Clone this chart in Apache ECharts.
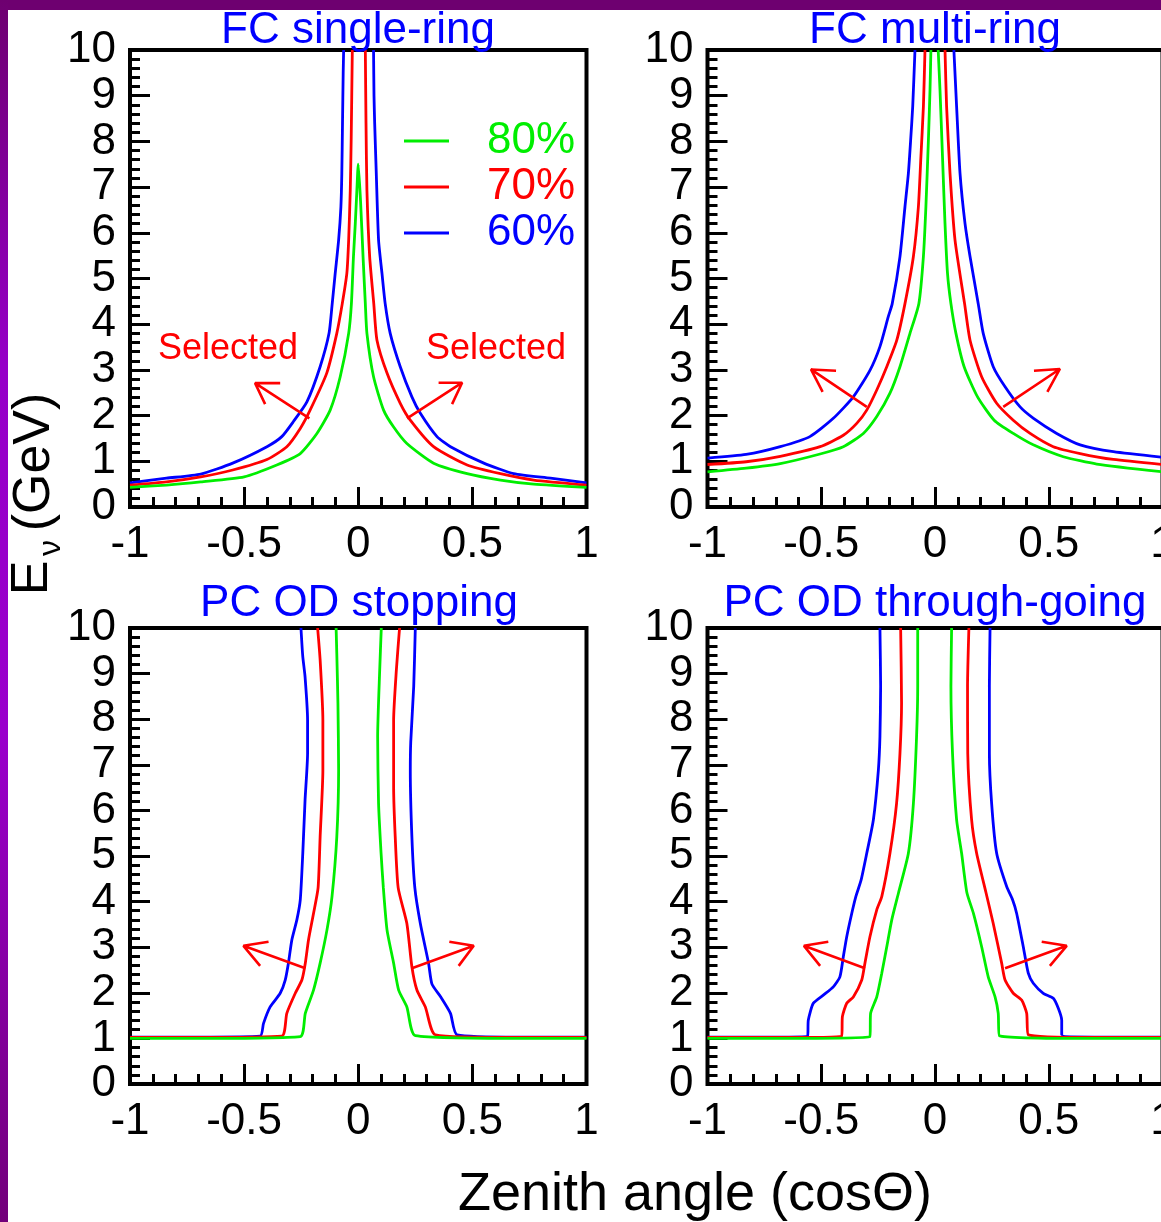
<!DOCTYPE html>
<html><head><meta charset="utf-8">
<script src="https://cdn.jsdelivr.net/npm/echarts@6/dist/echarts.min.js"></script>
<style>html,body{margin:0;padding:0;background:#fff;overflow:hidden}#chart{width:1161px;height:1222px}</style>
</head><body><div id="chart"></div>
<script>
// ---------- data: [cosTheta, E_nu (GeV)], null separates left / right branch ----------
const xTicks = [-1, -0.5, 0, 0.5, 1];
const yTicks = [0,1,2,3,4,5,6,7,8,9,10];
const panelTitles = ['FC single-ring', 'FC multi-ring', 'PC OD stopping', 'PC OD through-going'];
const levels = ['80%', '70%', '60%'];

const fcSingle60 = [[-1,0.53],[-0.84,0.63],[-0.69,0.72],[-0.55,0.96],[-0.40,1.32],[-0.335,1.54],[-0.284,1.87],[-0.225,2.30],[-0.167,3.07],[-0.128,3.8],[-0.115,4.4],[-0.101,5.11],[-0.086,5.84],[-0.076,6.57],[-0.072,7.30],[-0.069,8.39],[-0.066,9.49],[-0.064,10],
  null,[0.067,10],[0.069,9.0],[0.072,8.39],[0.079,7.30],[0.089,5.84],[0.104,5.11],[0.118,4.45],[0.140,3.80],[0.184,3.07],[0.235,2.41],[0.272,2.05],[0.345,1.54],[0.404,1.32],[0.55,0.96],[0.681,0.73],[0.842,0.63],[1,0.53]];
const fcSingle70 = [[-1,0.48],[-0.84,0.55],[-0.69,0.66],[-0.55,0.81],[-0.40,1.04],[-0.313,1.32],[-0.254,1.72],[-0.211,2.12],[-0.138,2.93],[-0.094,3.80],[-0.07,4.45],[-0.05,5.11],[-0.042,5.84],[-0.035,6.93],[-0.031,8.03],[-0.026,10],
  null,[0.031,10],[0.034,8.4],[0.038,6.93],[0.050,5.48],[0.068,4.45],[0.082,3.65],[0.126,2.93],[0.184,2.27],[0.228,1.90],[0.330,1.32],[0.477,0.92],[0.623,0.73],[0.769,0.59],[1,0.48]];
const fcSingle80 = [[-1,0.43],[-0.84,0.48],[-0.69,0.55],[-0.50,0.66],[-0.357,0.92],[-0.254,1.17],[-0.181,1.61],[-0.123,2.12],[-0.079,2.85],[-0.042,3.80],[-0.03,4.45],[-0.021,5.48],[-0.013,6.2],[-0.006,6.93],[0,7.5],[0.01,6.7],[0.021,5.48],[0.031,4.45],[0.038,3.80],[0.067,2.85],[0.111,2.12],[0.155,1.75],[0.213,1.39],[0.330,0.96],[0.477,0.73],[0.623,0.59],[0.769,0.50],[1,0.43]];

const fcMulti60 = [[-1,1.07],[-0.83,1.15],[-0.68,1.32],[-0.55,1.54],[-0.447,1.94],[-0.359,2.41],[-0.286,2.99],[-0.242,3.51],[-0.205,4.17],[-0.188,4.45],[-0.154,5.48],[-0.132,6.57],[-0.117,7.30],[-0.107,8.03],[-0.098,8.76],[-0.088,10],
  null,[0.083,10],[0.095,8.76],[0.110,7.30],[0.132,6.2],[0.154,5.48],[0.19,4.45],[0.212,3.80],[0.256,3.07],[0.308,2.63],[0.374,2.19],[0.433,1.94],[0.535,1.61],[0.638,1.36],[0.784,1.21],[1,1.09]];
const fcMulti70 = [[-1,0.93],[-0.83,0.99],[-0.68,1.11],[-0.505,1.32],[-0.403,1.57],[-0.344,1.83],[-0.300,2.12],[-0.256,2.56],[-0.212,3.07],[-0.168,3.65],[-0.132,4.45],[-0.095,5.48],[-0.073,6.57],[-0.062,7.66],[-0.051,8.76],[-0.044,10],
  null,[0.044,10],[0.051,8.76],[0.066,7.30],[0.088,5.84],[0.13,4.45],[0.154,3.65],[0.205,2.85],[0.271,2.27],[0.344,1.90],[0.418,1.61],[0.520,1.32],[0.638,1.17],[0.784,1.04],[1,0.93]];
const fcMulti80 = [[-1,0.77],[-0.83,0.85],[-0.68,0.95],[-0.505,1.16],[-0.403,1.32],[-0.315,1.61],[-0.256,1.98],[-0.198,2.49],[-0.154,3.07],[-0.110,3.80],[-0.071,4.45],[-0.051,5.48],[-0.040,6.57],[-0.029,8.03],[-0.022,9.12],[-0.018,10],
  null,[0.014,10],[0.022,9.12],[0.033,7.66],[0.044,6.2],[0.055,5.11],[0.07,4.45],[0.092,3.80],[0.128,3.07],[0.187,2.41],[0.260,1.90],[0.344,1.61],[0.432,1.36],[0.564,1.10],[0.711,0.94],[1,0.77]];

const pcStop60 = [[-1,1.03],[-0.7,1.03],[-0.43,1.05],[-0.415,1.33],[-0.386,1.69],[-0.342,1.99],[-0.320,2.28],[-0.306,2.65],[-0.291,3.16],[-0.269,3.60],[-0.254,4.04],[-0.243,5.06],[-0.233,6.23],[-0.222,7.25],[-0.222,7.98],[-0.233,8.93],[-0.243,9.37],[-0.251,10],
  null,[0.25,10],[0.243,8.72],[0.230,7.5],[0.228,6.88],[0.235,5.42],[0.248,4.3],[0.272,3.52],[0.308,2.65],[0.323,2.19],[0.360,1.92],[0.404,1.55],[0.433,1.08],[0.7,1.03],[1,1.03]];
const pcStop70 = [[-1,1.02],[-0.7,1.02],[-0.335,1.05],[-0.313,1.55],[-0.276,1.99],[-0.247,2.28],[-0.232,2.65],[-0.218,3.16],[-0.196,3.74],[-0.176,4.3],[-0.167,5.42],[-0.155,6.88],[-0.155,7.98],[-0.167,9.30],[-0.178,10],
  null,[0.181,10],[0.167,9.08],[0.155,7.98],[0.155,6.52],[0.162,5.42],[0.175,4.3],[0.213,3.52],[0.235,2.57],[0.257,2.06],[0.294,1.69],[0.338,1.08],[0.7,1.02],[1,1.02]];
const pcStop80 = [[-1,1.0],[-0.7,1.0],[-0.254,1.04],[-0.232,1.55],[-0.196,2.06],[-0.167,2.65],[-0.137,3.38],[-0.115,4.11],[-0.094,5.42],[-0.086,6.88],[-0.089,8.35],[-0.094,9.44],[-0.097,10],
  null,[0.101,10],[0.094,9.08],[0.085,7.62],[0.089,6.15],[0.100,5.06],[0.110,4.3],[0.126,3.38],[0.155,2.65],[0.177,2.06],[0.213,1.69],[0.250,1.06],[0.7,1.0],[1,1.0]];

const pcThru60 = [[-1,1.03],[-0.7,1.03],[-0.56,1.05],[-0.557,1.40],[-0.535,1.77],[-0.491,1.95],[-0.447,2.13],[-0.418,2.35],[-0.403,2.79],[-0.388,3.23],[-0.366,3.74],[-0.348,4.11],[-0.325,4.47],[-0.300,5.06],[-0.271,5.79],[-0.249,6.88],[-0.242,7.62],[-0.239,8.72],[-0.242,10],
  null,[0.242,10],[0.239,8.72],[0.239,7.25],[0.249,6.15],[0.271,5.06],[0.315,4.33],[0.341,4.04],[0.359,3.74],[0.388,3.01],[0.410,2.43],[0.432,2.21],[0.476,1.99],[0.520,1.88],[0.542,1.66],[0.557,1.40],[0.557,1.08],[0.7,1.03],[1,1.03]];
const pcThru70 = [[-1,1.02],[-0.7,1.02],[-0.41,1.05],[-0.407,1.48],[-0.388,1.77],[-0.359,1.91],[-0.322,2.28],[-0.308,2.65],[-0.286,3.23],[-0.256,3.82],[-0.234,4.11],[-0.198,5.06],[-0.169,6.15],[-0.154,7.25],[-0.147,8.35],[-0.151,10],
  null,[0.149,10],[0.143,8.72],[0.144,7.25],[0.161,5.79],[0.183,5.06],[0.224,4.2],[0.256,3.52],[0.293,2.65],[0.308,2.28],[0.344,1.99],[0.381,1.84],[0.403,1.55],[0.410,1.08],[0.7,1.02],[1,1.02]];
const pcThru80 = [[-1,1.0],[-0.7,1.0],[-0.286,1.04],[-0.283,1.55],[-0.256,1.91],[-0.234,2.43],[-0.212,3.01],[-0.190,3.60],[-0.16,4.2],[-0.117,5.06],[-0.095,6.15],[-0.081,7.62],[-0.076,8.72],[-0.076,10],
  null,[0.073,10],[0.070,8.72],[0.077,7.25],[0.095,5.79],[0.117,5.06],[0.14,4.2],[0.169,3.74],[0.205,3.01],[0.234,2.35],[0.264,1.91],[0.278,1.55],[0.283,1.06],[0.7,1.0],[1,1.0]];

// "Selected" arrows: [shaft start, tip, arm 1, arm 2]
const fcSingleArrows = [[[-0.214,1.94],[-0.452,2.71],[-0.342,2.71],[-0.408,2.25]], [[0.214,1.94],[0.455,2.72],[0.352,2.72],[0.411,2.25]]];
const fcMultiArrows  = [[[-0.300,2.19],[-0.545,3.01],[-0.435,2.98],[-0.494,2.52]], [[0.300,2.19],[0.549,3.02],[0.435,2.98],[0.494,2.52]]];
const pcStopArrows   = [[[-0.232,2.54],[-0.503,3.03],[-0.393,3.12],[-0.430,2.59]], [[0.235,2.54],[0.506,3.03],[0.399,3.12],[0.440,2.59]]];
const pcThruArrows   = [[[-0.308,2.54],[-0.576,3.03],[-0.469,3.12],[-0.505,2.59]], [[0.308,2.54],[0.579,3.03],[0.469,3.12],[0.505,2.59]]];

// ---------- build ----------
const FONT = '"Liberation Sans", Arial, Helvetica, sans-serif';
const COLORS = {'80%': '#00ee00', '70%': '#ff0000', '60%': '#0000ff'};
const panels = [
  {data: {'60%': fcSingle60, '70%': fcSingle70, '80%': fcSingle80}, arrows: fcSingleArrows},
  {data: {'60%': fcMulti60, '70%': fcMulti70, '80%': fcMulti80}, arrows: fcMultiArrows},
  {data: {'60%': pcStop60, '70%': pcStop70, '80%': pcStop80}, arrows: pcStopArrows},
  {data: {'60%': pcThru60, '70%': pcThru70, '80%': pcThru80}, arrows: pcThruArrows}
];
const gridPos = [
  {left: 130, top: 50, width: 456.5, height: 457},
  {left: 707.5, top: 50, width: 455, height: 457},
  {left: 130, top: 628, width: 456.5, height: 456},
  {left: 707.5, top: 628, width: 455, height: 456}
];
const titlePos = [[358, 31], [935, 31], [359, 604], [935, 604]];

function splitBranches(arr) {
  const out = [[]];
  arr.forEach(p => { if (p === null) out.push([]); else out[out.length - 1].push(p); });
  return out;
}

const grid = gridPos.map(g => Object.assign({show: true, borderColor: '#000', borderWidth: 4, backgroundColor: 'transparent', containLabel: false, outerBoundsMode: 'none'}, g));
const tickCommon = () => ({
  axisLine: {show: false, onZero: false},
  axisTick: {show: true, inside: true, length: 20, lineStyle: {color: '#000', width: 3}},
  minorTick: {show: true, splitNumber: 5, length: 10, lineStyle: {color: '#000', width: 3}},
  splitLine: {show: false}, minorSplitLine: {show: false}
});
const xAxis = gridPos.map((g, i) => Object.assign({
  type: 'value', gridIndex: i, position: 'bottom', min: xTicks[0], max: xTicks[xTicks.length - 1], interval: xTicks[1] - xTicks[0],
  axisLabel: {color: '#000', fontSize: 44, fontFamily: FONT, margin: 16}
}, tickCommon()));
const yAxis = gridPos.map((g, i) => Object.assign({
  type: 'value', gridIndex: i, position: 'left', min: yTicks[0], max: yTicks[yTicks.length - 1], interval: yTicks[1] - yTicks[0],
  axisLabel: {color: '#000', fontSize: 44, fontFamily: FONT, margin: 14}
}, tickCommon()));

const series = [];
panels.forEach((p, i) => {
  ['60%', '70%', '80%'].forEach(lv => {
    splitBranches(p.data[lv]).forEach(br => {
      series.push({
        type: 'line', name: lv, xAxisIndex: i, yAxisIndex: i, data: br,
        color: COLORS[lv], showSymbol: false, symbol: 'none', smooth: 0.2,
        lineStyle: {color: COLORS[lv], width: 2.8}, z: 3, silent: true
      });
    });
  });
  p.arrows.forEach(a => {
    series.push({
      type: 'line', xAxisIndex: i, yAxisIndex: i, data: [a[0], a[1], a[2], a[1], a[3]],
      showSymbol: false, symbol: 'none', lineStyle: {color: '#ff0000', width: 2.6}, z: 4, silent: true
    });
  });
});

const graphic = [];
panelTitles.forEach((t, i) => graphic.push({
  type: 'text', x: titlePos[i][0], y: titlePos[i][1], z: 10,
  style: {text: t, fill: '#0000ff', font: '44px ' + FONT, align: 'center', verticalAlign: 'middle'}
}));
[['Selected', 228, 349], ['Selected', 496, 349]].forEach(s => graphic.push({
  type: 'text', x: s[1], y: s[2], z: 10,
  style: {text: s[0], fill: '#ff0000', font: '36px ' + FONT, align: 'center', verticalAlign: 'middle'}
}));
graphic.push({type: 'text', x: 695, y: 1195, z: 10,
  style: {text: 'Zenith angle (cosΘ)', fill: '#000', font: '54px ' + FONT, align: 'center', verticalAlign: 'middle'}});
graphic.push({type: 'text', x: 33, y: 578, rotation: Math.PI / 2, z: 10,
  style: {text: 'E', fill: '#000', font: '52px ' + FONT, align: 'center', verticalAlign: 'middle'}});
graphic.push({type: 'text', x: 51, y: 548, rotation: Math.PI / 2, z: 10,
  style: {text: 'ν', fill: '#000', font: '32px ' + FONT, align: 'center', verticalAlign: 'middle'}});
graphic.push({type: 'text', x: 35, y: 462, rotation: Math.PI / 2, z: 10,
  style: {text: '(GeV)', fill: '#000', font: '52px ' + FONT, align: 'center', verticalAlign: 'middle'}});
graphic.push({type: 'rect', shape: {x: 0, y: 0, width: 1161, height: 10}, z: 20, style: {fill: '#6e0070'}});
graphic.push({type: 'rect', shape: {x: 0, y: 0, width: 8, height: 1222}, z: 20, style: {fill: {
  type: 'linear', x: 0, y: 0, x2: 0, y2: 1,
  colorStops: [{offset: 0, color: '#6e0070'}, {offset: 0.3, color: '#9600c8'}, {offset: 0.6, color: '#9a00cc'}, {offset: 1, color: '#72007a'}]
}}});

const chart = echarts.init(document.getElementById('chart'), null, {renderer: 'canvas'});
chart.setOption({
  animation: false,
  backgroundColor: '#ffffff',
  grid, xAxis, yAxis, series, graphic,
  legend: {
    show: true, selectedMode: false, orient: 'vertical', left: 404, top: 119, padding: 0,
    itemWidth: 45, itemHeight: 3, itemGap: 2, icon: 'rect',
    textStyle: {fontSize: 44, fontFamily: FONT, padding: [0, 0, 0, 33]},
    data: levels.map(l => ({name: l, textStyle: {color: COLORS[l]}}))
  }
});
</script></body></html>
